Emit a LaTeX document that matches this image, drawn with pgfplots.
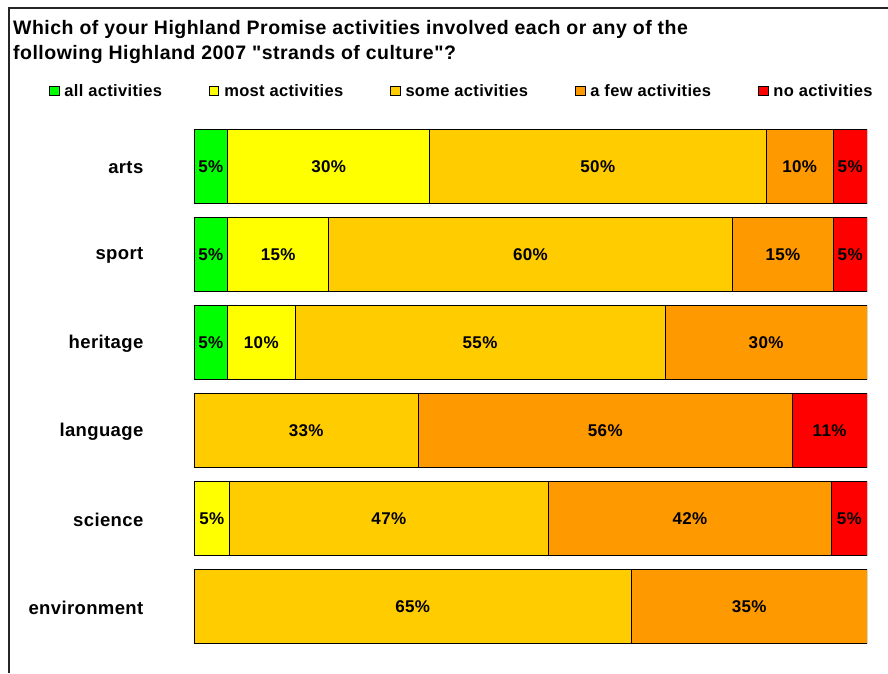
\documentclass[border=0pt]{standalone}
\usepackage{pgfplots}
\pgfplotsset{compat=1.18}
\usepackage{fontspec}
\setmainfont{Liberation Sans}
\newfontfamily\tfont{Liberation Sans}[LetterSpace=2.5]
\newfontfamily\lfont{Liberation Sans}[LetterSpace=2]
\definecolor{cgreen}{HTML}{00FF00}
\definecolor{cyellow}{HTML}{FFFF00}
\definecolor{cgold}{HTML}{FFCC00}
\definecolor{corange}{HTML}{FF9900}
\definecolor{cred}{HTML}{FF0000}
\begin{document}
\begin{tikzpicture}
\useasboundingbox (0,0) rectangle (888pt,-673pt);
\draw[line width=1.5pt, color=black!85] (9pt,-673pt) -- (9pt,-8pt) -- (888pt,-8pt);
\node[anchor=base west, inner sep=0pt, font=\tfont\bfseries\fontsize{19.5}{22}\selectfont] at (13pt,-34pt) {Which of your Highland Promise activities involved each or any of the};
\node[anchor=base west, inner sep=0pt, font=\tfont\bfseries\fontsize{19.5}{22}\selectfont] at (13pt,-59.5pt) {following Highland 2007 "strands of culture"?};
\begin{axis}[
  at={(194pt,-650.5pt)}, anchor=south west,
  scale only axis, width=673pt, height=528pt,
  xbar stacked, bar width=74pt,
  xmin=0, xmax=100, ymin=-0.5, ymax=5.5, y dir=reverse,
  axis line style={draw=none}, xtick=\empty,
  ytick={0,...,5}, yticklabels={arts,sport,heritage,language,science,environment},
  major tick length=0pt,
  yticklabel style={font=\lfont\bfseries\fontsize{18.5}{20}\selectfont, inner sep=0pt, yshift=-1pt},
  yticklabel shift=50.5pt,
  legend columns=5,
  legend style={at={(axis description cs:-0.2155,1.0597)}, anchor=west, draw=none, fill=none, inner sep=0pt,
    font=\lfont\bfseries\fontsize{16.5}{19}\selectfont,
    nodes={inner sep=0pt},
    /tikz/every even column/.append style={column sep=47pt},
    /tikz/every odd column/.append style={column sep=5pt}},
  legend image code/.code={\draw[#1,draw=black,line width=0.8pt] (0pt,-4.5pt) rectangle (9.5pt,4.5pt);},
]
\addplot[fill=cgreen, draw=black, line width=0.8pt] coordinates {(5,0) (5,1) (5,2) (0,3) (0,4) (0,5)};
\addlegendentry{all activities}
\addplot[fill=cyellow, draw=black, line width=0.8pt] coordinates {(30,0) (15,1) (10,2) (0,3) (5.263,4) (0,5)};
\addlegendentry{most activities}
\addplot[fill=cgold, draw=black, line width=0.8pt] coordinates {(50,0) (60,1) (55,2) (33.333,3) (47.368,4) (65,5)};
\addlegendentry{some activities}
\addplot[fill=corange, draw=black, line width=0.8pt] coordinates {(10,0) (15,1) (30,2) (55.556,3) (42.105,4) (35,5)};
\addlegendentry{a few activities}
\addplot[fill=cred, draw=black, line width=0.8pt] coordinates {(5,0) (5,1) (0,2) (11.111,3) (5.263,4) (0,5)};
\addlegendentry{no activities}
\end{axis}
\begin{axis}[
  at={(194pt,-650.5pt)}, anchor=south west,
  scale only axis, width=673pt, height=528pt,
  xmin=0, xmax=100, ymin=-0.5, ymax=5.5, y dir=reverse, hide axis,
]
\addplot[only marks, mark=*, mark size=0pt, draw=none, fill=none,
  nodes near coords, point meta=explicit symbolic,
  every node near coord/.append style={anchor=center, inner sep=0pt, font=\lfont\bfseries\fontsize{17}{19}\selectfont}]
  table[meta=lab, row sep=\\] {
  x y lab \\
  2.5 0 5\% \\ 20 0 30\% \\ 60 0 50\% \\ 90 0 10\% \\ 97.5 0 5\% \\
  2.5 1 5\% \\ 12.5 1 15\% \\ 50 1 60\% \\ 87.5 1 15\% \\ 97.5 1 5\% \\
  2.5 2 5\% \\ 10 2 10\% \\ 42.5 2 55\% \\ 85 2 30\% \\
  16.667 3 33\% \\ 61.111 3 56\% \\ 94.444 3 11\% \\
  2.632 4 5\% \\ 28.947 4 47\% \\ 73.684 4 42\% \\ 97.368 4 5\% \\
  32.5 5 65\% \\ 82.5 5 35\% \\
  };
\end{axis}
\end{tikzpicture}
\end{document}
